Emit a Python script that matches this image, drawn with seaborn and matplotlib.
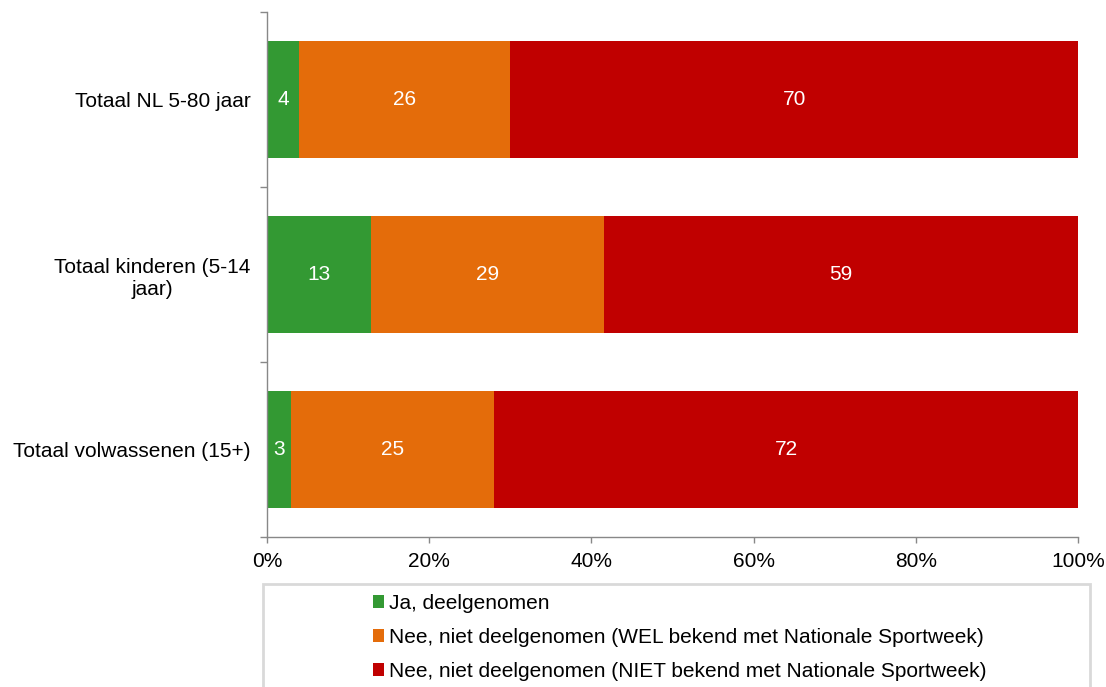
import matplotlib
matplotlib.use("Agg")
import matplotlib.pyplot as plt
from matplotlib.patches import Patch, Rectangle
import numpy as np
import pandas as pd
import seaborn as sns

# Survey groups and answer shares (percent)
groups = ["Totaal NL 5-80 jaar", "Totaal kinderen (5-14\njaar)", "Totaal volwassenen (15+)"]
ja_deelgenomen = [4, 13, 3]
nee_wel_bekend = [26, 29, 25]
nee_niet_bekend = [70, 59, 72]

series_names = [
    "Ja, deelgenomen",
    "Nee, niet deelgenomen (WEL bekend met Nationale Sportweek)",
    "Nee, niet deelgenomen (NIET bekend met Nationale Sportweek)",
]
colors = ["#339933", "#E46C0A", "#C00000"]
x_ticks = [0, 20, 40, 60, 80, 100]

sns.set_theme(style="white")
plt.rcParams["font.family"] = ["Liberation Sans", "DejaVu Sans"]
FS = 15

raw = np.array([ja_deelgenomen, nee_wel_bekend, nee_niet_bekend], dtype=float)
shares = raw / raw.sum(axis=0) * 100  # 100% stacked per group
cum = np.cumsum(shares, axis=0)

fig = plt.figure(figsize=(11.06, 6.87), dpi=100)
ax = fig.add_axes([267 / 1106, 1 - 537 / 687, (1078 - 267) / 1106, (537 - 12) / 687])

# Draw cumulative totals from the outermost segment inwards
for i in range(2, -1, -1):
    df = pd.DataFrame({"group": groups, "value": cum[i]})
    sns.barplot(data=df, x="value", y="group", orient="h", color=colors[i],
                saturation=1, width=0.67, ax=ax, edgecolor="none", linewidth=0)

# Segment value labels
for i in range(3):
    starts = cum[i] - shares[i]
    for j in range(len(groups)):
        ax.text(starts[j] + shares[i][j] / 2, j, f"{int(raw[i][j])}",
                ha="center", va="center", color="white", fontsize=FS)

ax.set_xlim(0, 100)
ax.set_ylim(2.5, -0.5)
ax.set_xlabel("")
ax.set_ylabel("")

ax.set_xticks(x_ticks)
ax.set_xticklabels([f"{v}%" for v in x_ticks], fontsize=FS, color="#000000")

# Group labels centred on bars, ticks on group boundaries
ax.set_yticks([-0.5, 0.5, 1.5, 2.5])
ax.set_yticklabels([])
ax.set_yticks(range(len(groups)), minor=True)
ax.set_yticklabels(groups, minor=True, fontsize=FS, color="#000000",
                   multialignment="center")
ax.tick_params(axis="y", which="major", left=True, length=5, width=1, color="#888888")
ax.tick_params(axis="y", which="minor", left=False, length=0, pad=12)
ax.tick_params(axis="x", bottom=True, length=4, width=1, color="#888888", pad=7)

for side in ["top", "right"]:
    ax.spines[side].set_visible(False)
for side in ["left", "bottom"]:
    ax.spines[side].set_visible(True)
    ax.spines[side].set_color("#888888")
    ax.spines[side].set_linewidth(1)

# Legend box below the plot
fig.patches.append(Rectangle((263 / 1106, -0.05), (1090 - 263) / 1106, 0.05 + (1 - 584 / 687),
                             transform=fig.transFigure, facecolor="white",
                             edgecolor="#D9D9D9", linewidth=2))
handles = [Patch(facecolor=c, edgecolor="none") for c in colors]
fig.legend(handles, series_names, loc="upper left",
           bbox_to_anchor=(373 / 1106, 1 - 594 / 687), frameon=False,
           fontsize=FS, labelcolor="#000000",
           handlelength=0.55, handleheight=0.55, handletextpad=0.2,
           labelspacing=0.72, borderaxespad=0, borderpad=0)

fig.savefig("out.png", dpi=100)
